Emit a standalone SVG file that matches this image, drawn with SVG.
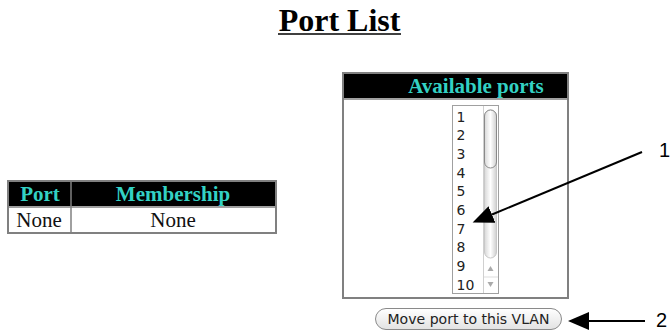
<svg xmlns="http://www.w3.org/2000/svg" width="670" height="332" viewBox="0 0 670 332">
<style>
.ser{font-family:"Liberation Serif","Times New Roman",serif}
.hd{font-family:"Liberation Serif","Times New Roman",serif;font-weight:bold;fill:#33d1c4;font-size:21px}
.cell{font-family:"Liberation Serif","Times New Roman",serif;font-size:21px;fill:#111}
.num{font-family:"DejaVu Sans","Noto Sans",sans-serif;font-size:14px;fill:#222}
.lbl{font-family:"Liberation Sans",Arial,sans-serif;font-size:20px;fill:#000}
.tb{fill:none;stroke:#808080;stroke-width:2}
.ln{stroke:#808080;stroke-width:1.5}
.arr{stroke:#000;stroke-width:2;fill:none}
</style>
<defs>
<marker id="ah" markerUnits="userSpaceOnUse" markerWidth="22" markerHeight="20" refX="0" refY="9" orient="auto">
<path d="M0,0 L21,9 L0,18 z" fill="#000"/>
</marker>
<linearGradient id="thumb" x1="0" y1="0" x2="1" y2="0">
<stop offset="0" stop-color="#d8d8d8"/><stop offset="0.5" stop-color="#ffffff"/><stop offset="1" stop-color="#cfcfcf"/>
</linearGradient>
<linearGradient id="btn" x1="0" y1="0" x2="0" y2="1">
<stop offset="0" stop-color="#ffffff"/><stop offset="1" stop-color="#e2e2e2"/>
</linearGradient>
</defs>
<rect width="670" height="332" fill="#fff"/>

<g id="title">
<text x="339.5" y="30.5" text-anchor="middle" class="ser" font-size="32" font-weight="bold" fill="#000">Port List</text>
<line x1="278" y1="34" x2="401" y2="34" stroke="#000" stroke-width="1.5"/>
</g>

<g id="port-table">
<rect x="8" y="181" width="268" height="52" fill="#fff"/>
<rect x="9" y="182" width="266" height="24" fill="#000"/>
<rect x="8" y="181" width="268" height="52" class="tb"/>
<line x1="8" y1="207" x2="276" y2="207" class="ln"/>
<line x1="71" y1="181" x2="71" y2="233" class="ln"/>
<text x="40" y="201" text-anchor="middle" class="hd">Port</text>
<text x="173" y="201" text-anchor="middle" class="hd">Membership</text>
<text x="39" y="227" text-anchor="middle" class="cell">None</text>
<text x="173" y="227" text-anchor="middle" class="cell">None</text>
</g>

<g id="available-ports">
<rect x="343" y="73" width="225" height="225" fill="#fff"/>
<rect x="344" y="74" width="223" height="24" fill="#000"/>
<rect x="343" y="73" width="225" height="225" class="tb"/>
<line x1="343" y1="99" x2="568" y2="99" class="ln"/>
<text x="476" y="93" text-anchor="middle" class="hd">Available ports</text>
</g>

<g id="listbox">
<rect x="452.5" y="105.5" width="46" height="188" fill="#fff" stroke="#a0a0a0" stroke-width="1"/>
<line x1="483.5" y1="106" x2="483.5" y2="293" stroke="#d0d0d0"/>
<rect x="484.5" y="110" width="12" height="148" rx="6" fill="url(#thumb)" stroke="#c8c8c8"/>
<rect x="484.5" y="110" width="12" height="58" rx="6" fill="url(#thumb)" stroke="#8a8a8a"/>
<line x1="484" y1="277" x2="498" y2="277" stroke="#ddd"/>
<path d="M487.5,271 L490.5,266 L493.5,271 z" fill="#aaa"/>
<path d="M487.5,282 L490.5,287 L493.5,282 z" fill="#aaa"/>
<text x="456.5" y="121.5" class="num">1</text>
<text x="456.5" y="140.2" class="num">2</text>
<text x="456.5" y="158.9" class="num">3</text>
<text x="456.5" y="177.6" class="num">4</text>
<text x="456.5" y="196.3" class="num">5</text>
<text x="456.5" y="215" class="num">6</text>
<text x="456.5" y="233.7" class="num">7</text>
<text x="456.5" y="252.4" class="num">8</text>
<text x="456.5" y="271.1" class="num">9</text>
<text x="456.5" y="289.8" class="num">10</text>
</g>

<g id="button">
<rect x="375.5" y="308.5" width="186" height="21" rx="10.5" fill="url(#btn)" stroke="#8a8a8a"/>
<text x="468.5" y="324" text-anchor="middle" class="num" font-size="13.5" textLength="162" lengthAdjust="spacingAndGlyphs">Move port to this VLAN</text>
</g>

<g id="callouts">
<text x="659" y="157" class="lbl">1</text>
<text x="656" y="327" class="lbl">2</text>
</g>

<g id="connectors">
<line x1="642" y1="152" x2="492" y2="214.5" class="arr" marker-end="url(#ah)"/>
<line x1="645" y1="321" x2="589" y2="321" class="arr" marker-end="url(#ah)"/>
</g>
</svg>
